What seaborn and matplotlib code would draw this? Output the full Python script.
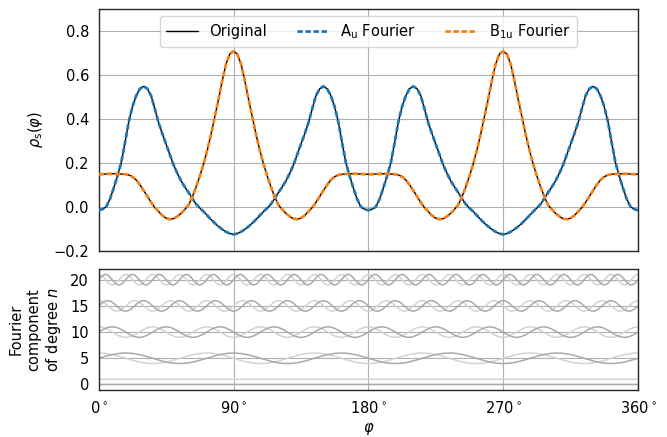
import numpy as np
import pandas as pd
import matplotlib
matplotlib.use("Agg")
import matplotlib.pyplot as plt
import seaborn as sns

# ---------------- data (0..90 deg in 2.5 deg steps) ----------------
phi_quarter = [0.0, 2.5, 5.0, 7.5, 10.0, 12.5, 15.0, 17.5, 20.0, 22.5, 25.0, 27.5,
               30.0, 32.5, 35.0, 37.5, 40.0, 42.5, 45.0, 47.5, 50.0, 52.5, 55.0,
               57.5, 60.0, 62.5, 65.0, 67.5, 70.0, 72.5, 75.0, 77.5, 80.0, 82.5,
               85.0, 87.5, 90.0]

rho_Au_quarter = [-0.016, -0.011, 0.000, 0.035, 0.085, 0.140, 0.200, 0.290, 0.385,
                  0.455, 0.505, 0.537, 0.548, 0.537, 0.505, 0.445, 0.382, 0.332,
                  0.285, 0.237, 0.190, 0.152, 0.118, 0.090, 0.065, 0.038, 0.012,
                  -0.006, -0.022, -0.040, -0.058, -0.075, -0.090, -0.103, -0.114,
                  -0.122, -0.126]

rho_B1u_quarter = [0.148, 0.148, 0.149, 0.150, 0.150, 0.150, 0.149, 0.148, 0.145,
                   0.137, 0.122, 0.100, 0.074, 0.047, 0.020, -0.004, -0.022, -0.040,
                   -0.052, -0.057, -0.054, -0.044, -0.030, -0.012, 0.008, 0.045,
                   0.090, 0.140, 0.195, 0.258, 0.330, 0.410, 0.490, 0.575, 0.650,
                   0.695, 0.708]

degrees = [0, 5, 10, 15, 20]
xtick_vals = [0, 90, 180, 270, 360]
xtick_labels = [r"$0^\circ$", r"$90^\circ$", r"$180^\circ$", r"$270^\circ$", r"$360^\circ$"]
ytick_top = [-0.2, 0.0, 0.2, 0.4, 0.6, 0.8]
ytick_bot = [0, 5, 10, 15, 20]
legend_labels = ["Original", r"A$_\mathrm{u}$ Fourier", r"B$_{1\mathrm{u}}$ Fourier"]

# the curves are mirror-symmetric about 90 deg and repeat every 180 deg
def full_period(q):
    half = list(q) + list(q[-2::-1])          # 0 .. 180
    return half + half[1:]                      # 0 .. 360

phi_deg = [p for p in phi_quarter] + [180.0 - p for p in phi_quarter[-2::-1]]
phi_deg = phi_deg + [180.0 + p for p in phi_deg[1:]]
rho_Au = full_period(rho_Au_quarter)
rho_B1u = full_period(rho_B1u_quarter)

# ---------------- style ----------------
sns.set_theme(style="whitegrid")
fs = 10.5
plt.rcParams.update({
    "font.family": ["DejaVu Sans"],
    "font.size": fs,
    "axes.labelsize": fs,
    "xtick.labelsize": fs,
    "ytick.labelsize": fs,
    "legend.fontsize": fs,
    "text.color": "black",
    "axes.labelcolor": "black",
    "xtick.color": "black",
    "ytick.color": "black",
    "axes.edgecolor": "0.15",
    "axes.linewidth": 1.0,
    "grid.color": "#b0b0b0",
    "grid.linewidth": 0.8,
    "xtick.major.size": 3.5,
    "ytick.major.size": 3.5,
    "xtick.major.pad": 3.5,
    "ytick.major.pad": 3.5,
    "mathtext.fontset": "dejavusans",
})

fig = plt.figure(figsize=(6.67, 4.37), dpi=100)
ax1 = fig.add_axes([0.148, 0.4263, 0.8085, 0.5531])
ax2 = fig.add_axes([0.148, 0.1076, 0.8085, 0.2769], sharex=ax1)

df = pd.DataFrame({"phi": phi_deg, "Au": rho_Au, "B1u": rho_B1u})

# original curves (black, thin)
sns.lineplot(data=df, x="phi", y="Au", color="black", lw=1.0, ax=ax1,
             estimator=None, sort=False, zorder=2)
sns.lineplot(data=df, x="phi", y="B1u", color="black", lw=1.0, ax=ax1,
             estimator=None, sort=False, zorder=2)
# Fourier reconstructions (dashed)
sns.lineplot(data=df, x="phi", y="Au", color="#1f77b4", lw=2.0, ax=ax1,
             estimator=None, sort=False, zorder=3)
sns.lineplot(data=df, x="phi", y="B1u", color="#ff7f0e", lw=2.0, ax=ax1,
             estimator=None, sort=False, zorder=3)
lines = ax1.get_lines()
for ln in lines[2:4]:
    ln.set_dashes((1.9, 1.0))
    ln.set_dash_capstyle("butt")

handles = [lines[0], lines[2], lines[3]]
ax1.legend(handles, legend_labels, loc="upper center", ncol=3,
           handlelength=2.2, columnspacing=2.0)

ax1.set_xlim(0, 360)
ax1.set_ylim(-0.2, 0.9)
ax1.set_yticks(ytick_top)
ax1.set_ylabel(r"$\rho_\mathrm{s}(\varphi)$", labelpad=6)
ax1.set_xlabel("")
ax1.tick_params(bottom=False, left=False, labelbottom=False)
ax1.grid(True)

# Fourier basis components of degree n
phi_fine = np.linspace(0, 360, 1441)
for n in degrees:
    sns.lineplot(x=phi_fine, y=n + np.cos(np.radians(n * phi_fine)),
                 color="lightgray", lw=1.1, ax=ax2, estimator=None, sort=False)
    sns.lineplot(x=phi_fine, y=n + np.sin(np.radians(n * phi_fine)),
                 color="darkgray", lw=1.1, ax=ax2, estimator=None, sort=False)

ax2.set_xlim(0, 360)
ax2.set_ylim(-1.05, 22.05)
ax2.set_yticks(ytick_bot)
ax2.set_xticks(xtick_vals)
ax2.set_xticklabels(xtick_labels)
ax2.set_xlabel(r"$\varphi$")
ax2.set_ylabel("Fourier\ncomponent\nof degree $n$", labelpad=5)
ax2.tick_params(bottom=False, left=False)
ax2.grid(True)

for ax in (ax1, ax2):
    for sp in ax.spines.values():
        sp.set_color("0.15")
        sp.set_linewidth(1.0)

fig.savefig("out.png", dpi=100)
